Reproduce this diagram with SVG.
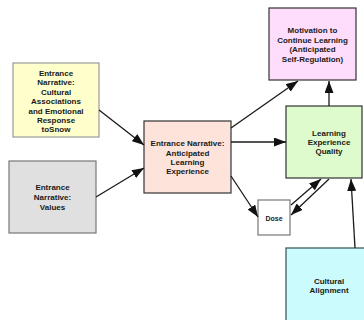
<svg xmlns="http://www.w3.org/2000/svg" width="364" height="320" viewBox="0 0 364 320">
<defs>
<style>
text{font-family:"Liberation Sans",Arial,sans-serif;font-weight:bold;font-size:8px;fill:#1a1a1a;text-anchor:middle}
.box{stroke-width:1.2}
.edge{stroke:#1a1a1a;stroke-width:1.3;fill:none;marker-end:url(#ah)}
</style>
<marker id="ah" markerUnits="userSpaceOnUse" markerWidth="13" markerHeight="9" refX="12" refY="4.5" orient="auto">
<path d="M0,0 L12,4.5 L0,9 z" fill="#111"/>
</marker>
</defs>
<rect width="364" height="320" fill="#fff"/>
<g id="yellow">
<rect class="box" x="13" y="63" width="86" height="74" fill="#FFFFCC" stroke="#9a9a9a"/>
<text x="56" y="76">Entrance</text>
<text x="56" y="85">Narrative:</text>
<text x="56" y="94.5">Cultural</text>
<text x="56" y="103.5">Associations</text>
<text x="56" y="114">and Emotional</text>
<text x="56" y="123">Response</text>
<text x="56" y="132">toSnow</text>
</g>
<g id="values">
<rect class="box" x="9" y="161" width="87" height="72" fill="#E0E0E0" stroke="#777"/>
<text x="52.5" y="190">Entrance</text>
<text x="52.5" y="200">Narrative:</text>
<text x="52.5" y="210">Values</text>
</g>
<g id="anticipated">
<rect class="box" x="144" y="121" width="87" height="72" fill="#FDE3DA" stroke="#333"/>
<text x="187.5" y="146">Entrance Narrative:</text>
<text x="187.5" y="155.5">Anticipated</text>
<text x="187.5" y="164.5">Learning</text>
<text x="187.5" y="174">Experience</text>
</g>
<g id="motivation">
<rect class="box" x="269" y="8" width="87" height="72" fill="#FDDDFB" stroke="#333"/>
<text x="312.5" y="33">Motivation to</text>
<text x="312.5" y="42.5">Continue Learning</text>
<text x="312.5" y="52">(Anticipated</text>
<text x="312.5" y="61.5">Self-Regulation)</text>
</g>
<g id="quality">
<rect class="box" x="286" y="106" width="76" height="72" fill="#DDFBCC" stroke="#333"/>
<text x="329" y="136">Learning</text>
<text x="329" y="145">Experience</text>
<text x="329" y="154">Quality</text>
</g>
<g id="dose">
<rect class="box" x="258" y="200" width="32" height="35" fill="#fff" stroke="#777"/>
<text x="274" y="220.5" style="font-size:7px">Dose</text>
</g>
<g id="cultural">
<rect class="box" x="286" y="248" width="80" height="80" fill="#CCFBFD" stroke="#2f5050"/>
<text x="329" y="284">Cultural</text>
<text x="329" y="293">Alignment</text>
</g>
<g id="connectors">
<line class="edge" x1="99" y1="110" x2="144" y2="145"/>
<line class="edge" x1="96" y1="197" x2="144" y2="168"/>
<line class="edge" x1="231" y1="128" x2="298" y2="81"/>
<line class="edge" x1="329" y1="106" x2="329" y2="81"/>
<line class="edge" x1="231" y1="142" x2="286" y2="142"/>
<line class="edge" x1="231" y1="176" x2="258" y2="217"/>
<line class="edge" x1="291" y1="205" x2="321" y2="179"/>
<line class="edge" x1="329" y1="179" x2="291" y2="215"/>
<line class="edge" x1="355" y1="248" x2="351" y2="179"/>
</g>
</svg>
